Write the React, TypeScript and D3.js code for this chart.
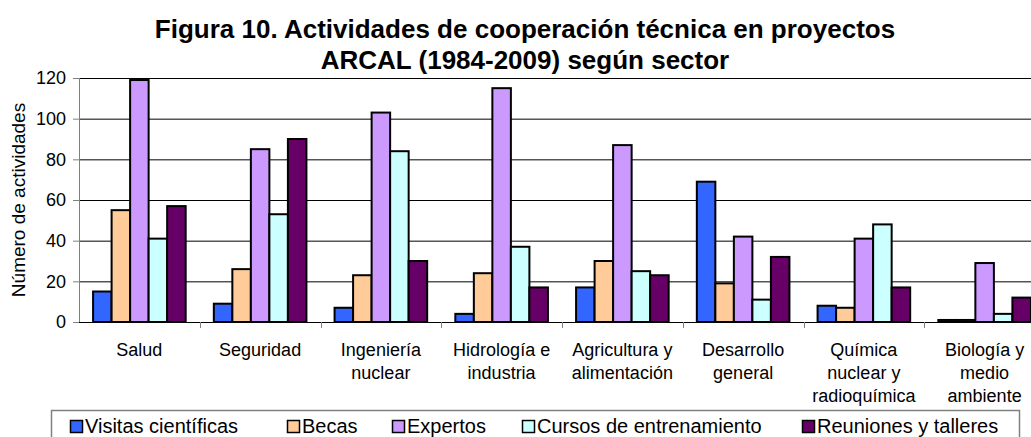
import { useRef, useEffect } from "react";
import * as d3 from "d3";

const categories = [
  ["Salud"],
  ["Seguridad"],
  ["Ingeniería", "nuclear"],
  ["Hidrología e", "industria"],
  ["Agricultura y", "alimentación"],
  ["Desarrollo", "general"],
  ["Química", "nuclear y", "radioquímica"],
  ["Biología y", "medio", "ambiente"],
];

const seriesNames = [
  "Visitas científicas",
  "Becas",
  "Expertos",
  "Cursos de entrenamiento",
  "Reuniones y talleres",
];
const seriesColors = ["#3366FF", "#FFCC99", "#CC99FF", "#CCFFFF", "#660066"];

const visitas = [15, 9, 7, 4, 17, 69, 8, 1];
const becas = [55, 26, 23, 24, 30, 19, 7, 1];
const expertos = [119, 85, 103, 115, 87, 42, 41, 29];
const cursos = [41, 53, 84, 37, 25, 11, 48, 4];
const reuniones = [57, 90, 30, 17, 23, 32, 17, 12];

const yTicks = [0, 20, 40, 60, 80, 100, 120];

export default function App() {
  const ref = useRef<HTMLDivElement>(null);

  function init() {
    const el = ref.current!;
    el.innerHTML = "";
    const W = 1031,
      H = 437;
    const font = "Arial, 'Liberation Sans', sans-serif";

    const svg = d3
      .select(el)
      .append("svg")
      .attr("width", W)
      .attr("height", H)
      .style("position", "absolute")
      .style("left", 0)
      .style("top", 0)
      .style("font-family", font);

    svg.append("rect").attr("width", W).attr("height", H).attr("fill", "#fff");

    const left = 79,
      right = 1045,
      top = 78,
      bottom = 322;

    const keys = categories.map((c) => c.join(" "));
    const values = [visitas, becas, expertos, cursos, reuniones];

    const x0 = d3.scaleBand().domain(keys).range([left, right]);
    const x1 = d3
      .scaleBand<number>()
      .domain(d3.range(seriesNames.length))
      .range([0, x0.bandwidth()])
      .paddingInner(0)
      .paddingOuter(0.76);
    const y = d3.scaleLinear().domain([0, 120]).range([bottom, top]);

    // Title
    const title = svg
      .append("text")
      .attr("text-anchor", "middle")
      .attr("font-weight", "bold")
      .attr("font-size", 26)
      .attr("fill", "#000");
    title.append("tspan").attr("x", 525).attr("y", 38).text("Figura 10. Actividades de cooperación técnica en proyectos");
    title.append("tspan").attr("x", 525).attr("y", 69).text("ARCAL (1984-2009) según sector");

    // Gridlines
    svg
      .append("g")
      .selectAll("line")
      .data(yTicks.filter((t) => t > 0))
      .join("line")
      .attr("x1", left)
      .attr("x2", right)
      .attr("y1", (d) => y(d) + 0.5)
      .attr("y2", (d) => y(d) + 0.5)
      .attr("stroke", "#000")
      .attr("stroke-width", 1);

    // Y axis
    svg
      .append("line")
      .attr("x1", left + 0.5)
      .attr("x2", left + 0.5)
      .attr("y1", top)
      .attr("y2", bottom)
      .attr("stroke", "#808080");
    const yt = svg.append("g");
    yt.selectAll("line")
      .data(yTicks)
      .join("line")
      .attr("x1", left - 6)
      .attr("x2", left)
      .attr("y1", (d) => y(d) + 0.5)
      .attr("y2", (d) => y(d) + 0.5)
      .attr("stroke", "#808080");
    yt.selectAll("text")
      .data(yTicks)
      .join("text")
      .attr("x", 66)
      .attr("y", (d) => y(d))
      .attr("dy", "0.36em")
      .attr("text-anchor", "end")
      .attr("font-size", 18)
      .text((d) => d);

    svg
      .append("text")
      .attr("transform", `translate(25, ${(top + bottom) / 2}) rotate(-90)`)
      .attr("text-anchor", "middle")
      .attr("font-size", 19)
      .text("Número de actividades");

    // Bars
    const groups = svg
      .append("g")
      .selectAll("g")
      .data(keys)
      .join("g")
      .attr("transform", (d) => `translate(${x0(d)},0)`);
    groups
      .selectAll("rect")
      .data((_, i) => values.map((v, s) => ({ s, v: v[i] })))
      .join("rect")
      .attr("x", (d) => x1(d.s)!)
      .attr("y", (d) => y(d.v))
      .attr("width", x1.bandwidth())
      .attr("height", (d) => bottom - y(d.v))
      .attr("fill", (d) => seriesColors[d.s])
      .attr("stroke", "#000")
      .attr("stroke-width", 2);

    // X axis
    svg
      .append("line")
      .attr("x1", left)
      .attr("x2", right)
      .attr("y1", bottom + 0.5)
      .attr("y2", bottom + 0.5)
      .attr("stroke", "#000");
    svg
      .append("g")
      .selectAll("line")
      .data(keys.slice(1))
      .join("line")
      .attr("x1", (d) => Math.round(x0(d)!) + 0.5)
      .attr("x2", (d) => Math.round(x0(d)!) + 0.5)
      .attr("y1", bottom)
      .attr("y2", bottom + 6)
      .attr("stroke", "#808080");

    const labels = svg
      .append("g")
      .selectAll("text")
      .data(categories)
      .join("text")
      .attr("text-anchor", "middle")
      .attr("font-size", 18);
    labels
      .selectAll("tspan")
      .data((d, i) => d.map((line, j) => ({ line, j, key: keys[i] })))
      .join("tspan")
      .attr("x", (d) => x0(d.key)! + x0.bandwidth() / 2)
      .attr("y", (d) => 356 + d.j * 23)
      .text((d) => d.line);

    // Legend
    svg
      .append("rect")
      .attr("x", 51.5)
      .attr("y", 410.5)
      .attr("width", 968)
      .attr("height", 40)
      .attr("fill", "#fff")
      .attr("stroke", "#808080")
      .attr("stroke-width", 1.5);
    const legendX = [70, 287, 392, 522, 802];
    const li = svg
      .append("g")
      .selectAll("g")
      .data(seriesNames)
      .join("g")
      .attr("transform", (_, i) => `translate(${legendX[i]}, 420)`);
    li.append("rect")
      .attr("x", 0.5)
      .attr("y", 0.5)
      .attr("width", 12)
      .attr("height", 12)
      .attr("fill", (_, i) => seriesColors[i])
      .attr("stroke", "#000")
      .attr("stroke-width", 1.5);
    li.append("text")
      .attr("x", 15)
      .attr("y", 13)
      .attr("font-size", 20)
      .text((d) => d);
  }

  useEffect(init, []);

  return <div ref={ref}></div>;
}
